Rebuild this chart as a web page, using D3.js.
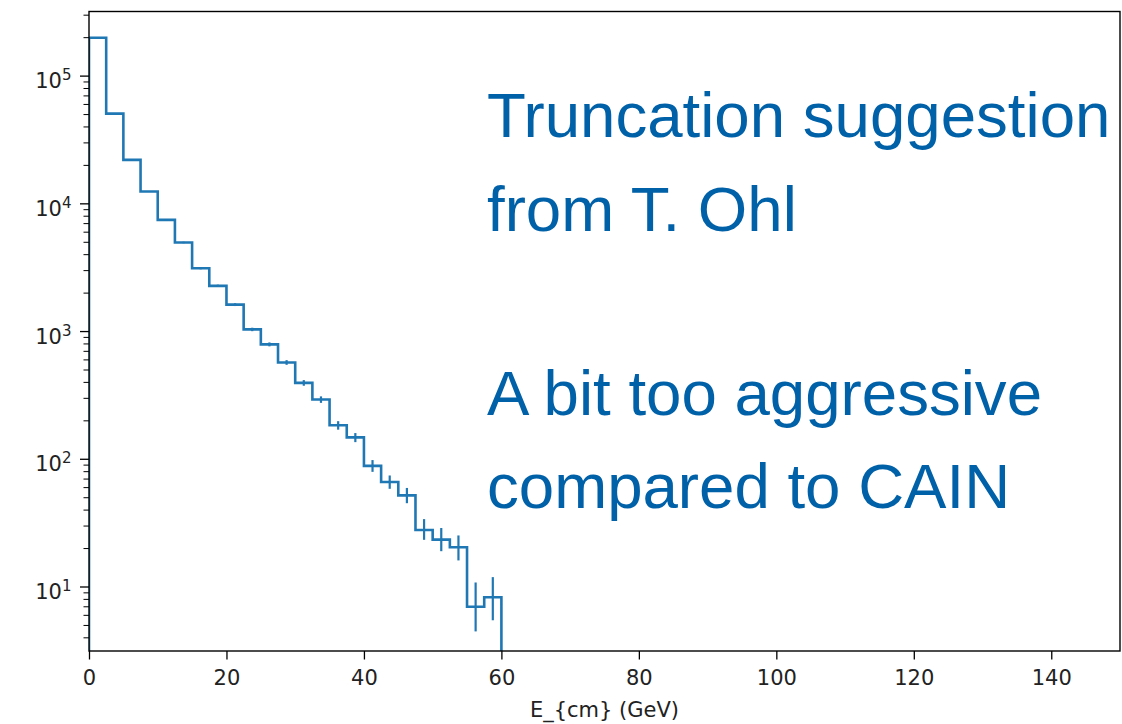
<!DOCTYPE html>
<html>
<head>
<meta charset="utf-8">
<script src="https://cdn.jsdelivr.net/npm/d3@7"></script>
<style>
  html, body { margin: 0; padding: 0; background: #ffffff; }
  svg { display: block; }
</style>
</head>
<body>
<script>
// ---- data ----
const binEdges = [0, 2.5, 5, 7.5, 10, 12.5, 15, 17.5, 20, 22.5, 25, 27.5, 30,
                  32.5, 35, 37.5, 40, 42.5, 45, 47.5, 50, 52.5, 55, 57.5, 60];
const counts   = [198000, 50400, 21900, 12370, 7420, 4930, 3100, 2260, 1610, 1030,
                  787, 568, 393, 291, 183, 147, 88, 65.8, 51.7, 27.7, 23.3, 20.3, 6.95, 8.24];
const errUp    = [450, 225, 148, 111, 86, 70, 56, 48, 40, 32,
                  28, 24, 20, 17, 14, 12, 9.7, 8.2, 7.4, 6.0, 5.4, 4.8, 3.8, 3.6];
const errDown  = [450, 225, 148, 111, 86, 70, 56, 48, 40, 32,
                  28, 24, 20, 17, 14, 12, 9.0, 7.6, 6.8, 4.5, 4.4, 4.3, 2.5, 2.8];
const xTicks   = [0, 20, 40, 60, 80, 100, 120, 140];
const yExponents = [1, 2, 3, 4, 5];
const xLabel   = "E_{cm} (GeV)";
const noteLines = ["Truncation suggestion", "from T. Ohl", "", "A bit too aggressive", "compared to CAIN"];

// ---- layout ----
const W = 1122, H = 724;
const L = 89, R = 1120, T = 11.5, B = 651;
const blue = "#1f77b4";
const tickFont = "21px";

const svg = d3.select("body").append("svg").attr("width", W).attr("height", H);

const x = d3.scaleLinear().domain([0, 150]).range([L, R]);
const y = d3.scaleLog().domain([Math.pow(10, 0.495), Math.pow(10, 5.502)]).range([B, T]);

svg.append("defs").append("clipPath").attr("id", "clip")
  .append("rect").attr("x", L).attr("y", T).attr("width", R - L).attr("height", B - T);

// histogram step line
const pts = [[x(binEdges[0]), B + 5]];
counts.forEach((c, i) => {
  pts.push([x(binEdges[i]), y(c)]);
  pts.push([x(binEdges[i + 1]), y(c)]);
});
pts.push([x(binEdges[binEdges.length - 1]), B + 5]);

const plot = svg.append("g").attr("clip-path", "url(#clip)");
plot.append("path")
  .attr("d", d3.line()(pts))
  .attr("fill", "none")
  .attr("stroke", blue)
  .attr("stroke-width", 2.6)
  .attr("stroke-linejoin", "miter");

// error bars
plot.selectAll("line.err").data(counts).enter().append("line")
  .attr("class", "err")
  .attr("x1", (d, i) => x((binEdges[i] + binEdges[i + 1]) / 2))
  .attr("x2", (d, i) => x((binEdges[i] + binEdges[i + 1]) / 2))
  .attr("y1", (d, i) => y(d + errUp[i]))
  .attr("y2", (d, i) => y(Math.max(d - errDown[i], 0.5)))
  .attr("stroke", blue)
  .attr("stroke-width", 2.2);

// x axis
const xAxis = d3.axisBottom(x).tickValues(xTicks).tickSize(8.5).tickSizeOuter(0)
  .tickFormat(d3.format("d"));
const gx = svg.append("g").attr("transform", `translate(0,${B})`).call(xAxis);
gx.select(".domain").remove();
gx.selectAll(".tick line").attr("stroke", "#000").attr("stroke-width", 1.3);
gx.selectAll(".tick text")
  .attr("y", 34).attr("dy", null)
  .attr("fill", "#222")
  .style("font-family", "DejaVu Sans").style("font-size", tickFont);

// y axis major
const yMajor = yExponents.map(e => Math.pow(10, e));
const yAxis = d3.axisLeft(y).tickValues(yMajor).tickSize(9).tickSizeOuter(0)
  .tickFormat(d => "10");
const gy = svg.append("g").attr("transform", `translate(${L},0)`).call(yAxis);
gy.select(".domain").remove();
gy.selectAll(".tick line").attr("stroke", "#000").attr("stroke-width", 1.3);
gy.selectAll(".tick text")
  .attr("x", -17.5).attr("y", 12).attr("dy", null)
  .attr("fill", "#222")
  .style("font-family", "DejaVu Sans").style("font-size", tickFont)
  .each(function(d) {
    const t = d3.select(this);
    t.text(null);
    t.append("tspan").text("10");
    t.append("tspan").attr("dy", -8).style("font-size", "15px")
      .text(String(Math.round(Math.log10(d))));
  });

// y axis minor
const yMinor = [];
for (let e = 0; e <= 5; e++) {
  for (let m = 2; m <= 9; m++) {
    const v = m * Math.pow(10, e);
    if (v >= y.domain()[0] && v <= y.domain()[1]) yMinor.push(v);
  }
}
const yAxisMinor = d3.axisLeft(y).tickValues(yMinor).tickSize(5.5).tickSizeOuter(0).tickFormat("");
const gym = svg.append("g").attr("transform", `translate(${L},0)`).call(yAxisMinor);
gym.select(".domain").remove();
gym.selectAll(".tick line").attr("stroke", "#000").attr("stroke-width", 1.0);

// frame
svg.append("rect")
  .attr("x", L).attr("y", T).attr("width", R - L).attr("height", B - T)
  .attr("fill", "none").attr("stroke", "#000").attr("stroke-width", 1.4);

// x label
svg.append("text")
  .attr("x", (L + R) / 2).attr("y", 717)
  .attr("text-anchor", "middle")
  .attr("fill", "#222")
  .style("font-family", "DejaVu Sans").style("font-size", tickFont)
  .text(xLabel);

// annotation
const noteY = [137, 231, 323, 415, 508];
svg.append("g").selectAll("text").data(noteLines).enter().append("text")
  .attr("x", 487)
  .attr("y", (d, i) => noteY[i])
  .attr("fill", "#0060a8")
  .style("font-family", "'Liberation Sans', Arial, sans-serif")
  .style("font-size", "63.6px")
  .text(d => d);
</script>
</body>
</html>
